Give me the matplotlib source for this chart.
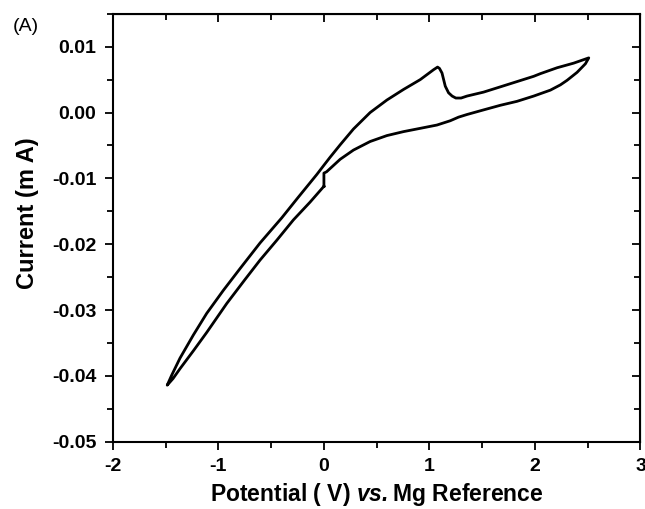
import numpy as np
import matplotlib
matplotlib.use("Agg")
import matplotlib.pyplot as plt
from matplotlib.ticker import MultipleLocator

plt.rcParams['font.family'] = ['Liberation Sans', 'DejaVu Sans']
plt.rcParams['axes.unicode_minus'] = False
plt.rcParams['mathtext.fontset'] = 'custom'
plt.rcParams['mathtext.bfit'] = 'Liberation Sans:italic:bold'

# Cyclic voltammogram (V vs. Mg, mA).
# Lower branch: the small step at 0 V, then up to the 2.5 V vertex.
lower_right_x = [0.0, 0.0, 0.025, 0.059, 0.154, 0.28, 0.438, 0.597, 0.754, 0.913, 1.071,
                 1.197, 1.276, 1.356, 1.513, 1.672, 1.83, 1.988, 2.146, 2.241, 2.305,
                 2.399, 2.478, 2.51]
lower_right_y = [-0.0112, -0.0092, -0.0090, -0.0085, -0.0071, -0.0057, -0.0044, -0.0035,
                 -0.0029, -0.0024, -0.0019, -0.00125, -0.0007, -0.0003, 0.0004, 0.0011,
                 0.0017, 0.0025, 0.0034, 0.0042, 0.0049, 0.0061, 0.0074, 0.0083]

# Upper branch: from the 2.5 V vertex back down to -1.5 V.
upper_x = [2.367, 2.21, 2.051, 1.988, 1.83, 1.672, 1.513, 1.356, 1.30, 1.25,
           1.215, 1.181, 1.15, 1.119, 1.095, 1.077, 1.039, 0.913, 0.754, 0.597, 0.438,
           0.28, 0.154, 0.058, 0.0, -0.067, -0.25, -0.40, -0.605, -0.795, -0.953,
           -1.111, -1.238, -1.364, -1.443, -1.485]
upper_y = [0.0075, 0.0068, 0.0059, 0.0055, 0.0047, 0.0039, 0.0031, 0.0025,
           0.0022, 0.0022, 0.0025, 0.0030, 0.0040, 0.0060, 0.0067, 0.0069, 0.0065,
           0.0050, 0.0035, 0.0019, 0.0000, -0.0025, -0.0049, -0.0068, -0.0080,
           -0.0094, -0.0130, -0.0160, -0.0198, -0.0237, -0.0270, -0.0305, -0.0338,
           -0.0373, -0.0399, -0.0414]

# Lower branch: from -1.5 V back to the step at 0 V.
lower_left_x = [-1.43, -1.364, -1.238, -1.111, -0.921, -0.75, -0.605, -0.447,
                -0.289, -0.131, 0.0]
lower_left_y = [-0.0404, -0.0389, -0.0362, -0.0334, -0.0290, -0.0254, -0.0224, -0.0194,
                -0.0163, -0.0136, -0.0112]

y_ticks = [-0.05, -0.04, -0.03, -0.02, -0.01, 0.00, 0.01]
y_tick_labels = ['-0.05', '-0.04', '-0.03', '-0.02', '-0.01', '0.00', '0.01']
x_ticks = [-2, -1, 0, 1, 2, 3]
x_tick_labels = ['-2', '-1', '0', '1', '2', '3']

x = lower_right_x + upper_x + lower_left_x
y = lower_right_y + upper_y + lower_left_y

fig = plt.figure(figsize=(6.45, 5.09), dpi=100)
ax = fig.add_axes([0.175, 0.132, 0.818, 0.841])

ax.plot(x, y, color='black', lw=2.0, solid_joinstyle='round')

ax.set_xlim(-2, 3)
ax.set_ylim(-0.05, 0.015)
ax.set_xticks(x_ticks)
ax.set_xticklabels(x_tick_labels)
ax.set_yticks(y_ticks)
ax.set_yticklabels(y_tick_labels)
ax.xaxis.set_minor_locator(MultipleLocator(0.5))
ax.yaxis.set_minor_locator(MultipleLocator(0.005))

for s in ax.spines.values():
    s.set_linewidth(1.5)

ax.tick_params(which='major', direction='out', length=6, width=1.3,
               labelsize=14, pad=6)
ax.tick_params(which='minor', direction='out', length=4, width=1.3)
for lab in ax.get_xticklabels() + ax.get_yticklabels():
    lab.set_fontweight('bold')

# mirrored ticks on top and right, pointing inward
top = ax.secondary_xaxis('top')
top.xaxis.set_major_locator(MultipleLocator(1))
top.xaxis.set_minor_locator(MultipleLocator(0.5))
top.tick_params(which='major', direction='in', length=6, width=1.3, labeltop=False)
top.tick_params(which='minor', direction='in', length=4, width=1.3)
right = ax.secondary_yaxis('right')
right.yaxis.set_major_locator(MultipleLocator(0.01))
right.yaxis.set_minor_locator(MultipleLocator(0.005))
right.tick_params(which='major', direction='in', length=6, width=1.3, labelright=False)
right.tick_params(which='minor', direction='in', length=4, width=1.3)

ax.set_xlabel('Potential ( V) $\\mathbfit{vs.}$Mg Reference', fontsize=16.5,
              fontweight='bold', labelpad=4)
ax.set_ylabel('Current (m A)', fontsize=17, fontweight='bold')
ax.yaxis.set_label_coords(-0.14, 0.533)

fig.text(0.040, 0.947, '(A)', fontsize=14, ha='center', va='center')

fig.savefig('out.png', dpi=100)
